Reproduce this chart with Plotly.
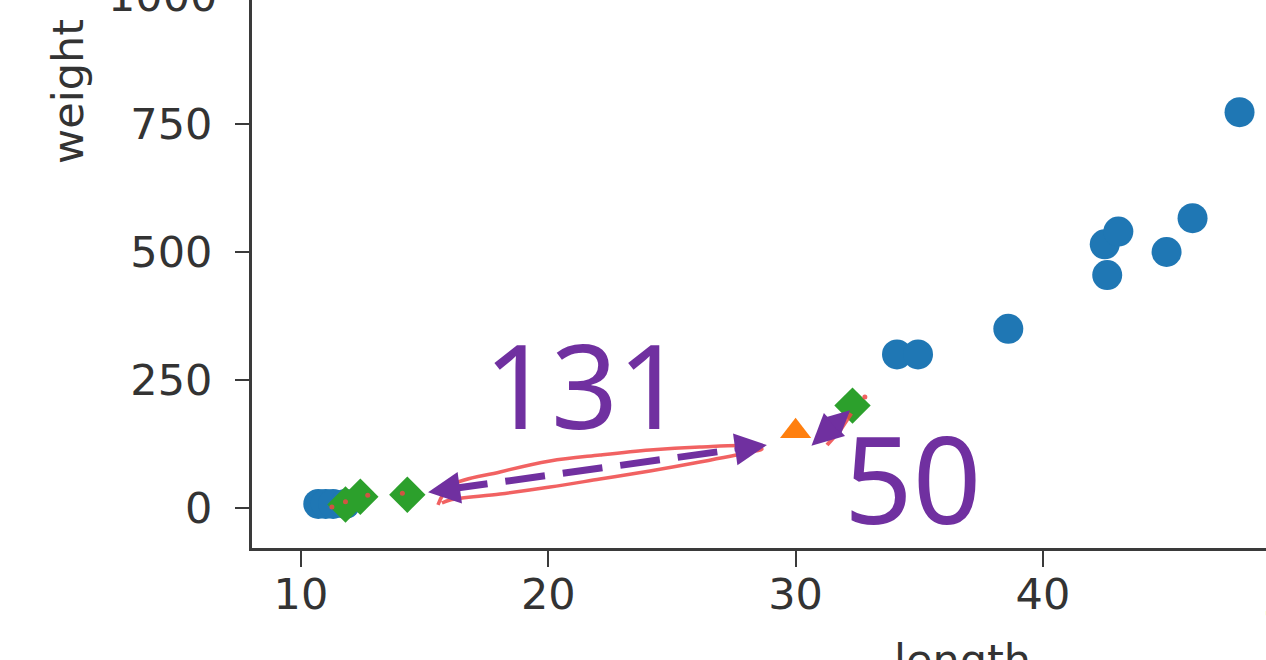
import plotly.graph_objects as go

# ---- data ----
blue_x = [10.7, 11.0, 11.3, 11.8, 34.1, 34.95, 38.6, 42.6, 42.5, 43.05, 45.0, 46.05, 47.95]
blue_y = [8, 8, 8, 8, 300, 300, 350, 455, 515, 540, 500, 566, 773]

new_x = [30.0]
new_y = [150]

near_x = [11.8, 12.4, 14.3, 32.3]
near_y = [7, 22, 26, 200]

pen_dot_x = [11.25, 11.8, 12.7, 14.1, 32.8]
pen_dot_y = [2, 12, 25, 29, 217]

x_ticks = [10, 20, 30, 40]
y_ticks = [0, 250, 500, 750]

# hand-drawn annotation geometry (data units)
arrow_left_tip = (15.14, 31)
arrow_right_tip = (28.84, 123)
dash_x = [15.94, 28.04]
dash_y = [36.5, 117.8]
short_tip_a = (30.58, 119)
short_tip_b = (32.2, 191)
loop_x = [15.54, 16.03, 18.05, 20.07, 22.09, 24.11, 26.13, 28.16, 28.64,
          28.16, 26.13, 24.11, 22.09, 20.07, 18.05, 16.03, 15.70]
loop_y = [5.9, 43.0, 70.3, 91.8, 103.5, 113.3, 119.1, 121.1, 115.2,
          109.4, 89.8, 72.3, 56.6, 41.0, 27.3, 15.6, 9.8]
pen_stroke_x = [31.27, 31.8, 32.25]
pen_stroke_y = [123, 152, 185]

PURPLE = "#7030a0"
RED = "rgba(238,70,70,0.85)"
TICKFONT = dict(family="DejaVu Sans", size=43, color="#333333")

fig = go.Figure()
fig.add_trace(go.Scatter(x=blue_x, y=blue_y, mode="markers",
                         marker=dict(color="#1f77b4", size=30, symbol="circle"),
                         showlegend=False, hoverinfo="skip"))
fig.add_trace(go.Scatter(x=new_x, y=new_y, mode="markers",
                         marker=dict(color="#ff7f0e", size=27, symbol="triangle-up"),
                         showlegend=False, hoverinfo="skip"))
fig.add_trace(go.Scatter(x=near_x, y=near_y, mode="markers",
                         marker=dict(color="#2ca02c", size=28, symbol="diamond"),
                         showlegend=False, hoverinfo="skip"))
fig.add_trace(go.Scatter(x=pen_dot_x, y=pen_dot_y, mode="markers",
                         marker=dict(color=RED, size=5),
                         showlegend=False, hoverinfo="skip"))
fig.add_trace(go.Scatter(x=dash_x, y=dash_y, mode="lines",
                         line=dict(color=PURPLE, width=7, dash="40px,18px"),
                         showlegend=False, hoverinfo="skip"))
fig.add_trace(go.Scatter(x=loop_x, y=loop_y, mode="lines",
                         line=dict(color=RED, width=3.5, shape="spline"),
                         showlegend=False, hoverinfo="skip"))
fig.add_trace(go.Scatter(x=pen_stroke_x, y=pen_stroke_y, mode="lines",
                         line=dict(color=RED, width=4),
                         showlegend=False, hoverinfo="skip"))

annotations = []
# arrowheads of the dashed double arrow
for tip, other in ((arrow_left_tip, arrow_right_tip), (arrow_right_tip, arrow_left_tip)):
    tx, ty = tip
    ox, oy = other
    annotations.append(dict(
        x=tx, y=ty, ax=tx + (ox - tx) * 0.1, ay=ty + (oy - ty) * 0.1,
        xref="x", yref="y", axref="x", ayref="y", text="", showarrow=True,
        arrowhead=2, arrowwidth=4, arrowsize=1.6, arrowcolor=PURPLE))
# short double arrow
annotations.append(dict(
    x=short_tip_b[0], y=short_tip_b[1], ax=short_tip_a[0], ay=short_tip_a[1],
    xref="x", yref="y", axref="x", ayref="y", text="", showarrow=True,
    arrowside="end+start", arrowhead=2, startarrowhead=2,
    arrowwidth=5, arrowsize=0.9, startarrowsize=1.25, arrowcolor=PURPLE))
# distance labels
annotations.append(dict(x=21.48, y=244, xref="x", yref="y", text="131", showarrow=False,
                        font=dict(family="Noto Sans", size=117, color=PURPLE)))
annotations.append(dict(x=34.71, y=60, xref="x", yref="y", text="50", showarrow=False,
                        font=dict(family="Noto Sans", size=120, color=PURPLE)))
# axis titles (placed where they appear in the cropped view)
annotations.append(dict(x=-0.1815, y=0.834, xref="paper", yref="paper", text="weight",
                        textangle=-90, showarrow=False, font=TICKFONT,
                        xanchor="center", yanchor="middle"))
annotations.append(dict(x=0.701, y=-0.155, xref="paper", yref="paper", text="length",
                        showarrow=False, font=TICKFONT, xanchor="center", yanchor="top"))
# partially visible tick labels beyond the crop
annotations.append(dict(x=-0.033, y=1.007, xref="paper", yref="paper", text="1000",
                        showarrow=False, font=TICKFONT, xanchor="right", yanchor="middle"))
annotations.append(dict(x=1.0237, y=-0.047, xref="paper", yref="paper", text="50",
                        showarrow=False, font=TICKFONT, xanchor="center", yanchor="top"))

fig.update_layout(
    width=1266, height=660,
    margin=dict(l=252, r=0, t=0, b=112, pad=0),
    paper_bgcolor="white", plot_bgcolor="white",
    annotations=annotations,
    xaxis=dict(range=[8.02, 49.02], tickvals=x_ticks, ticktext=[str(v) for v in x_ticks],
               showgrid=False, zeroline=False, showline=True, linecolor="#3a3a3a",
               linewidth=3, ticks="outside", ticklen=16, tickwidth=2, tickcolor="#3a3a3a",
               tickfont=TICKFONT, ticklabelstandoff=-10),
    yaxis=dict(range=[-78.1, 992.2], tickvals=y_ticks, ticktext=[str(v) for v in y_ticks],
               showgrid=False, zeroline=False, showline=True, linecolor="#3a3a3a",
               linewidth=3, ticks="outside", ticklen=14, tickwidth=2, tickcolor="#3a3a3a",
               tickfont=TICKFONT, ticklabelstandoff=14),
)

fig.write_html("out.html", config={"displayModeBar": False},
               post_script="document.body.style.margin='0';document.body.style.overflow='hidden';")
